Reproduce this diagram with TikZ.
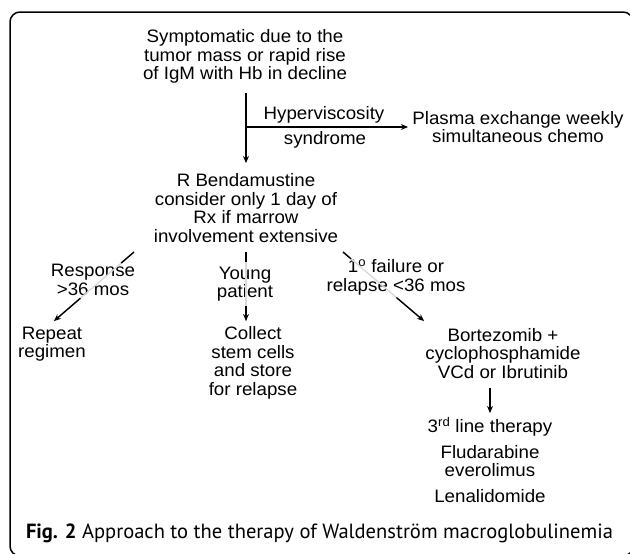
\documentclass[tikz,border=0pt]{standalone}
\usepackage{fontspec}
\usepackage{graphicx}
\setmainfont{Liberation Sans}
\newfontfamily\dfont{Liberation Sans}[FakeStretch=1.04]
\newfontfamily\capfont{PT Sans}
\usetikzlibrary{arrows.meta,calc}
\begin{document}
\begin{tikzpicture}[x=1pt,y=-1pt,
  txt/.style={font=\dfont\fontsize{18}{18.6}\selectfont, align=center, inner sep=0pt},
  conn/.style={line width=1.4pt, line cap=butt},
  arr/.style={conn, -{Stealth[length=7pt,width=6pt]}},
  faded/.style={line width=1.4pt, draw=gray!30},
  capstyle/.style={font=\capfont, inner sep=0pt}]
\useasboundingbox (0,0) rectangle (630,554);
\begin{scope}
\clip (0,0) rectangle (630,554);
\draw[line width=1.5pt, rounded corners=10pt] (10,12) rectangle (633,556);
\end{scope}

% nodes
\node[txt] (sym) at (245,56.5) {Symptomatic due to the\\tumor mass or rapid rise\\of IgM with Hb in decline};
\node[txt] (hyp) at (324,115) {Hyperviscosity};
\node[txt] (syn) at (325,140) {syndrome};
\node[txt] (pla) at (518,127) {Plasma exchange weekly\\simultaneous chemo};
\node[txt] (ben) at (246,208) {R Bendamustine\\consider only 1 day of\\Rx if marrow\\involvement extensive};
\node[txt] (res) at (93,280) {Response\\{>}36 mos};
\node[txt] (yng) at (245,284) {Young\\patient};
\node[txt] (fail) at (396,277.5) {1\textsuperscript{o} failure or\\relapse {<}36 mos};
\node[txt] (rep) at (52,344) {Repeat\\regimen};
\node[txt] (col) at (253,363) {Collect\\stem cells\\and store\\for relapse};
\node[txt] (bor) at (503,353.5) {Bortezomib +\\cyclophosphamide\\VCd or Ibrutinib};
\node[txt] (third) at (490,427) {3\textsuperscript{rd} line therapy};
\node[txt] (flu) at (490,461) {Fludarabine\\everolimus};
\node[txt] (len) at (490,496) {Lenalidomide};
\node[capstyle] (cap) at (319.5,533) {\resizebox{587pt}{!}{\textbf{Fig. 2} Approach to the therapy of Waldenström macroglobulinemia}};

% connector end points
\coordinate (v1) at (246,93);
\coordinate (v2) at (246,163);
\coordinate (hj) at (246,127);
\coordinate (h2) at (408,127);
\coordinate (l1) at (134,252);
\coordinate (l2) at (54,321);
\coordinate (m1) at (246,252);
\coordinate (m2) at (246,321);
\coordinate (r1) at (343,252);
\coordinate (r2) at (424,321);
\coordinate (b1) at (490,388);
\coordinate (b2) at (490,413);

% connectors
\draw[arr] (v1) -- (v2);
\draw[arr] (hj) -- (h2);

\draw[faded] (l1) -- (l2);
\draw[conn] (l1) -- ($(l1)!0.16!(l2)$);
\draw[arr] ($(l1)!0.67!(l2)$) -- (l2);

\draw[faded] (m1) -- (m2);
\draw[conn] (m1) -- ($(m1)!0.15!(m2)$);
\draw[arr] ($(m1)!0.78!(m2)$) -- (m2);

\draw[faded] (r1) -- (r2);
\draw[conn] (r1) -- ($(r1)!0.1!(r2)$);
\draw[arr] ($(r1)!0.66!(r2)$) -- (r2);

\draw[arr] (b1) -- (b2);
\end{tikzpicture}
\end{document}
